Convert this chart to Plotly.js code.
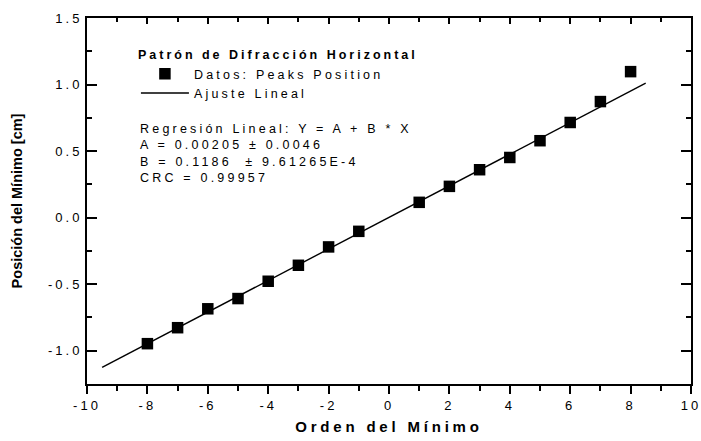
<!DOCTYPE html>
<html>
<head>
<meta charset="utf-8">
<script src="https://cdn.plot.ly/plotly-3.0.1.min.js"></script>
<style>
  html, body { margin: 0; padding: 0; background: #fff; }
  #chart { width: 701px; height: 441px; }
  .legendtext, .annotation-text { letter-spacing: 3.2px; }
  .legendtitletext { letter-spacing: 3px; }
  .xtitle { letter-spacing: 3.8px; }
  .xtick text, .ytick text { letter-spacing: 3px; }
</style>
</head>
<body>
<div id="chart"></div>
<script>
// Data
const orden = [-8, -7, -6, -5, -4, -3, -2, -1, 1, 2, 3, 4, 5, 6, 7, 8];
const posicion = [-0.947, -0.827, -0.685, -0.608, -0.478, -0.358, -0.220, -0.103,
                  0.115, 0.235, 0.360, 0.452, 0.578, 0.715, 0.872, 1.097];

// Linear fit line end points (Y = A + B*X)
const ajusteX = [-9.5, 8.5];
const ajusteY = [-1.125, 1.010];

// Tick labels
const xTickVals = [-10, -8, -6, -4, -2, 0, 2, 4, 6, 8, 10];
const xTickText = ["-10", "-8", "-6", "-4", "-2", "0", "2", "4", "6", "8", "10"];
const yTickVals = [-1.0, -0.5, 0.0, 0.5, 1.0, 1.5];
const yTickText = ["-1.0", "-0.5", "0.0", "0.5", "1.0", "1.5"];

const fontFam = "Arial, 'Liberation Sans', sans-serif";

const traces = [
  {
    x: orden, y: posicion, type: 'scatter', mode: 'markers',
    name: 'Datos: Peaks Position',
    marker: { symbol: 'square', size: 11.5, color: '#000' }
  },
  {
    x: ajusteX, y: ajusteY, type: 'scatter', mode: 'lines',
    name: 'Ajuste Lineal',
    line: { color: '#000', width: 1.4 }
  },
  {
    x: [null], y: [null], type: 'scatter', mode: 'markers',
    xaxis: 'x2', yaxis: 'y', showlegend: false, hoverinfo: 'skip'
  }
];

const layout = {
  width: 701, height: 441,
  margin: { l: 87, r: 10, t: 18, b: 57 },
  paper_bgcolor: '#fff', plot_bgcolor: '#fff',
  font: { family: fontFam, color: '#000', size: 13 },
  showlegend: true,
  legend: {
    x: 0.081, y: 0.932, xanchor: 'left', yanchor: 'top',
    bgcolor: 'rgba(0,0,0,0)', borderwidth: 0,
    font: { size: 12.5, family: fontFam, color: '#000' },
    title: { text: '<b>Patrón de Difracción Horizontal</b>', font: { size: 12.5, family: fontFam }, side: 'top' },
    itemwidth: 48,
    tracegroupgap: 0
  },
  xaxis: {
    range: [-10, 10],
    tickvals: xTickVals, ticktext: xTickText,
    ticks: 'outside', ticklen: 8, tickwidth: 2, tickcolor: '#000',
    minor: { dtick: 1, ticks: 'outside', ticklen: 5, tickwidth: 2, tickcolor: '#000' },
    showline: true, linewidth: 2, linecolor: '#000', mirror: true,
    showgrid: false, zeroline: false,
    ticklabeloverflow: 'allow',
    tickfont: { size: 13, family: fontFam },
    title: { text: '<b>Orden del Mínimo</b>', font: { size: 15, family: fontFam }, standoff: 10 }
  },
  xaxis2: {
    range: [-10, 10], overlaying: 'x', side: 'top', anchor: 'y',
    tickvals: xTickVals, showticklabels: false,
    ticks: 'inside', ticklen: 6, tickwidth: 2, tickcolor: '#000',
    minor: { dtick: 1, ticks: 'inside', ticklen: 4, tickwidth: 2, tickcolor: '#000' },
    showline: false, showgrid: false, zeroline: false
  },
  yaxis: {
    range: [-1.25, 1.5],
    tickvals: yTickVals, ticktext: yTickText,
    ticks: 'inside', ticklen: 10, tickwidth: 2, tickcolor: '#000',
    minor: { dtick: 0.25, ticks: 'inside', ticklen: 5, tickwidth: 2, tickcolor: '#000' },
    showline: true, linewidth: 2, linecolor: '#000', mirror: 'ticks',
    showgrid: false, zeroline: false,
    tickfont: { size: 13, family: fontFam },
    title: { text: '<b>Posición del Mínimo [cm]</b>', font: { size: 14.5, family: fontFam }, standoff: 22 }
  },
  annotations: [
    {
      xref: 'paper', yref: 'paper', x: 0.085, y: 0.631,
      xanchor: 'left', yanchor: 'middle', align: 'left', showarrow: false,
      font: { size: 12.5, family: fontFam, color: '#000' },
      text: 'Regresión Lineal: Y = A + B * X<br>A = 0.00205 ± 0.0046<br>B = 0.1186  ± 9.61265E-4<br>CRC = 0.99957'
    }
  ]
};

Plotly.newPlot('chart', traces, layout, { staticPlot: true, displayModeBar: false });
</script>
</body>
</html>
